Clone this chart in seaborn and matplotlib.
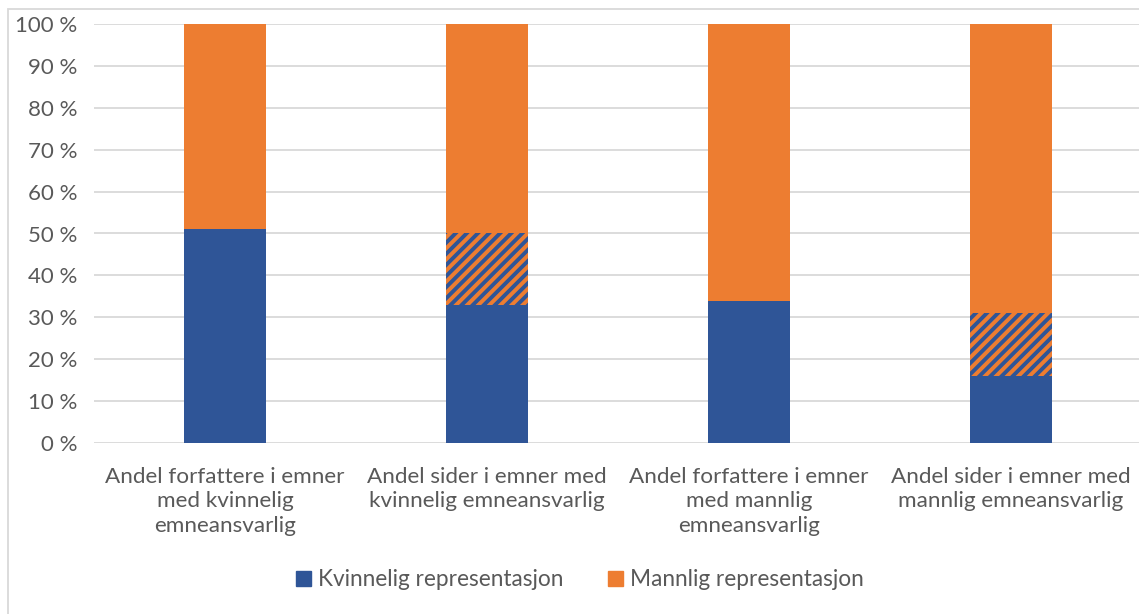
import pandas as pd
import seaborn as sns
import matplotlib.pyplot as plt
from matplotlib.patches import Patch, Rectangle

categories = ['Andel forfattere i emner\nmed kvinnelig\nemneansvarlig',
              'Andel sider i emner med\nkvinnelig emneansvarlig',
              'Andel forfattere i emner\nmed mannlig\nemneansvarlig',
              'Andel sider i emner med\nmannlig emneansvarlig']
kvinnelig = [51, 33, 34, 16]
blandet = [0, 17, 0, 15]
mannlig = [49, 50, 66, 69]
yticks = list(range(0, 101, 10))
ytick_labels = [f'{v} %' for v in yticks]

blue = '#2F5597'
orange = '#ED7D31'
grey_text = '#595959'

sns.set_style('white')
plt.rcParams['font.family'] = ['Lato', 'DejaVu Sans']
plt.rcParams['hatch.linewidth'] = 2.8

df = pd.DataFrame({'kategori': categories, 'kvinnelig': kvinnelig,
                   'blandet': blandet, 'mannlig': mannlig})
df['til_blandet'] = df['kvinnelig'] + df['blandet']
df['total'] = df['til_blandet'] + df['mannlig']

fig = plt.figure(figsize=(11.39, 6.14), dpi=100)
ax = fig.add_axes([94 / 1139, 1 - 443 / 614, 1 - 94 / 1139, (443 - 24) / 614])

# layered bars: full height orange, hatched middle, blue bottom
sns.barplot(data=df, x='kategori', y='total', color=orange, saturation=1,
            width=0.313, linewidth=0, ax=ax, zorder=2)
sns.barplot(data=df, x='kategori', y='til_blandet', color=orange, saturation=1,
            width=0.313, linewidth=0, edgecolor=blue, hatch='///', ax=ax, zorder=3)
sns.barplot(data=df, x='kategori', y='kvinnelig', color=blue, saturation=1,
            width=0.313, linewidth=0, ax=ax, zorder=4)

ax.set_ylim(0, 100)
ax.set_xlim(-0.5, 3.5 - 3 / 262)
ax.set_yticks(yticks)
ax.set_yticklabels(ytick_labels)
ax.yaxis.grid(True, color='#d9d9d9', linewidth=1.3, zorder=0)
ax.set_axisbelow(True)
for s in ax.spines.values():
    s.set_visible(False)
ax.set_xlabel('')
ax.set_ylabel('')
ax.tick_params(axis='y', length=0, pad=12, labelsize=16, labelcolor=grey_text)
ax.tick_params(axis='x', length=0, pad=17, labelsize=16.2, labelcolor=grey_text)
for t in ax.get_xticklabels():
    t.set_linespacing(1.3)

handles = [Patch(color=blue, label='Kvinnelig representasjon'),
           Patch(color=orange, label='Mannlig representasjon')]
fig.legend(handles=handles, loc='center', bbox_to_anchor=(0.509, 1 - 580 / 614),
           ncol=2, frameon=False, fontsize=16.3, labelcolor=grey_text,
           handlelength=0.65, handleheight=0.65, handletextpad=0.3, columnspacing=2.0)

# chart frame border
fig.patches.append(Rectangle((8 / 1139, -0.1), 1.2, 1 - 9 / 614 + 0.1,
                             transform=fig.transFigure, fill=False,
                             edgecolor='#d9d9d9', linewidth=1.3))

fig.savefig('out.png', dpi=100)
